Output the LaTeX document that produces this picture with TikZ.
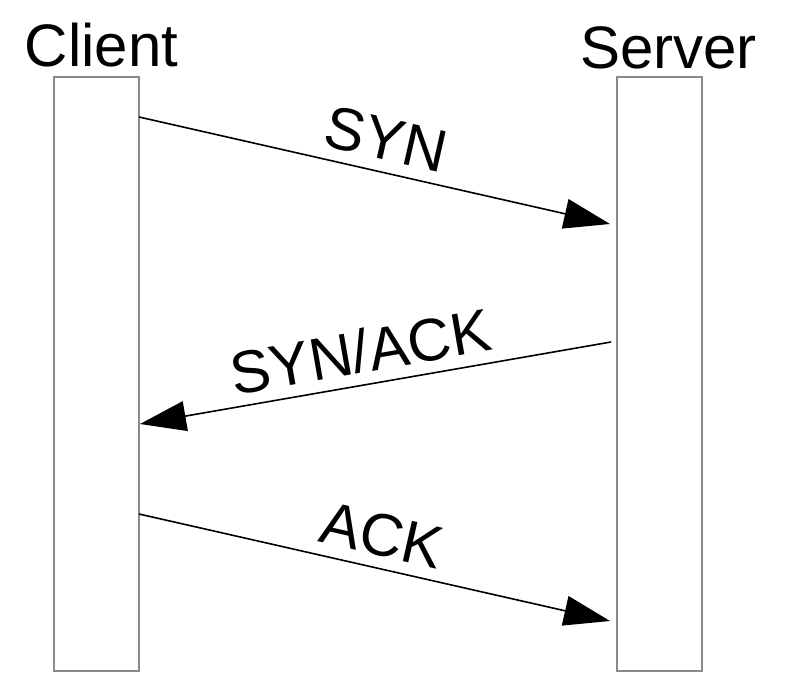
\documentclass[tikz,border=0pt]{standalone}
\usepackage{fontspec}
\setmainfont{Liberation Sans}
\usetikzlibrary{arrows.meta}
\begin{document}
\begin{tikzpicture}[x=1pt,y=-1pt,
  lifeline/.style={draw=black!46, line width=1.3pt},
  title/.style={font=\fontsize{60}{64}\selectfont, anchor=base, inner sep=0pt},
  msg/.style={draw=black, line width=1.6pt, -{Triangle[length=46pt,width=30pt]}},
  msglabel/.style={font=\fontsize{60}{64}\selectfont, inner sep=0pt, sloped, above=11pt}
]
\useasboundingbox (0,0) rectangle (800,676);
\path[lifeline] (54,77) rectangle (139,671);
\path[lifeline] (617,77) rectangle (702,671);
\node[title] (client) at (101.5,66.5) {Client};
\node[title] (server) at (668.5,69) {Server};
\coordinate (c1) at (139,117);
\coordinate (s1) at (610,224);
\coordinate (s2) at (611,342);
\coordinate (c2) at (140,424);
\coordinate (c3) at (139,514);
\coordinate (s3) at (610,621);
\draw[msg] (c1) -- node[msglabel, pos=0.51] (l1) {SYN} (s1);
\draw[msg] (s2) -- node[msglabel, pos=0.52] (l2) {SYN/ACK} (c2);
\draw[msg] (c3) -- node[msglabel, pos=0.5] (l3) {ACK} (s3);
\end{tikzpicture}
\end{document}
